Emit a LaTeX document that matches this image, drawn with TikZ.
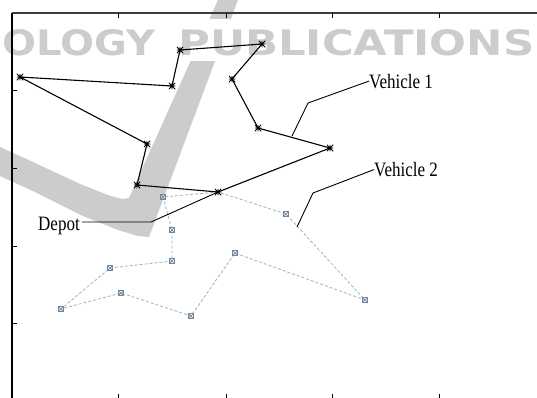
\documentclass[tikz,border=0pt]{standalone}
\usepackage{fontspec}
\setmainfont{Liberation Serif}
\newfontfamily\wmfont{DejaVu Sans}
\usepackage{graphicx}
\pgfdeclarelayer{bg}
\pgfdeclarelayer{routes}
\pgfsetlayers{bg,routes,main}
\definecolor{wmgray}{RGB}{204,204,204}
\definecolor{routetwo}{RGB}{150,182,200}
\definecolor{marktwo}{RGB}{115,135,155}
\definecolor{framegray}{RGB}{60,60,60}
\tikzset{
  mkone/.style={inner sep=0pt, minimum size=6.5pt, path picture={
    \draw[black, line width=0.9pt]
      (path picture bounding box.north west) -- (path picture bounding box.south east)
      (path picture bounding box.north east) -- (path picture bounding box.south west)
      (path picture bounding box.north) -- (path picture bounding box.south)
      (path picture bounding box.west) -- (path picture bounding box.east);}},
  mktwo/.style={inner sep=0pt, minimum size=5pt, draw=marktwo, line width=0.5pt, path picture={
    \draw[marktwo, line width=0.7pt]
      (path picture bounding box.north west) -- (path picture bounding box.south east)
      (path picture bounding box.north east) -- (path picture bounding box.south west);}},
  routeone/.style={black, line width=1.1pt, line join=round},
  routetwostyle/.style={routetwo, line width=0.8pt, dash pattern=on 3pt off 2pt},
  leader/.style={black, line width=0.9pt},
  labeltext/.style={inner sep=0pt, font=\fontsize{17}{20}\selectfont},
  wmtext/.style={inner sep=0pt, text=wmgray, font=\wmfont\bfseries},
  axisline/.style={line width=1.4pt},
  tickline/.style={line width=0.7pt}
}
\begin{document}
\begin{tikzpicture}[x=1pt,y=-1pt]
\useasboundingbox (0,0) rectangle (537,397);
\clip (0,0) rectangle (537,397);
% watermark
\begin{pgfonlayer}{bg}
\fill[white] (0,0) rectangle (537,397);
\fill[wmgray] (218,0) -- (238,0) -- (152,229) -- (149,237) -- (138,236) -- (118,230)
  -- (83,216) -- (33,191) -- (0,176) -- (0,147) -- (33,162) -- (80,184) -- (108,195)
  -- (122,199) -- (129,198) -- cycle;
\fill[white] (140,19) rectangle (262,61);
\node[wmtext, anchor=base east] (wmA) at (156,55) {\resizebox{153pt}{26pt}{OLOGY}};
\node[wmtext, anchor=base west] (wmB) at (178,55) {\resizebox{356pt}{26pt}{PUBLICATIONS}};
\end{pgfonlayer}
% axes frame
\draw[framegray, axisline] (12,13) -- (540,13);
\draw[black, axisline] (12,13) -- (12,400);
\draw[black, axisline] (12,400) -- (540,400);
\foreach \tx in {118,226,332,439} {
  \draw[tickline] (\tx,13) -- (\tx,17.5);
  \draw[tickline] (\tx,400) -- (\tx,394);
}
\foreach \ty in {90,168,246,323} {
  \draw[tickline] (12,\ty) -- (16.5,\ty);
}
% vehicle 1 markers
\node[mkone] (d) at (218,192) {};
\node[mkone] (a1) at (330,148) {};
\node[mkone] (a2) at (258,128) {};
\node[mkone] (a3) at (232,79) {};
\node[mkone] (a4) at (262,44) {};
\node[mkone] (a5) at (180,50) {};
\node[mkone] (a6) at (172,86) {};
\node[mkone] (a7) at (20,77) {};
\node[mkone] (a8) at (147,144) {};
\node[mkone] (a9) at (137,185) {};
% vehicle 2 markers
\node[mktwo] (b1) at (163,197) {};
\node[mktwo] (b2) at (172,230) {};
\node[mktwo] (b3) at (172,261) {};
\node[mktwo] (b4) at (110,268) {};
\node[mktwo] (b5) at (61,309) {};
\node[mktwo] (b6) at (121,293) {};
\node[mktwo] (b7) at (191,316) {};
\node[mktwo] (b8) at (235,253) {};
\node[mktwo] (b9) at (365,300) {};
\node[mktwo] (b10) at (286,214) {};
\begin{pgfonlayer}{routes}
\draw[routetwostyle] (d.center) -- (b1.center) -- (b2.center) -- (b3.center) -- (b4.center)
  -- (b5.center) -- (b6.center) -- (b7.center) -- (b8.center) -- (b9.center)
  -- (b10.center) -- (d.center);
\draw[routeone] (d.center) -- (a1.center) -- (a2.center) -- (a3.center) -- (a4.center)
  -- (a5.center) -- (a6.center) -- (a7.center) -- (a8.center) -- (a9.center) -- (d.center);
\end{pgfonlayer}
% labels
\node[labeltext, anchor=base west] (lab1) at (369,88) {\scalebox{1}[1.2]{Vehicle 1}};
\node[labeltext, anchor=base west] (lab2) at (374,176.5) {\scalebox{1}[1.2]{Vehicle 2}};
\node[labeltext, anchor=base west] (lab3) at (38,230) {\scalebox{1}[1.2]{Depot}};
\coordinate (k1) at (308,103);
\coordinate (e1) at (292,136);
\coordinate (k2) at (313,193);
\coordinate (e2) at (297,227);
\coordinate (s3) at (82,222);
\coordinate (k3) at (151,222);
\draw[leader] (lab1.west) -- (k1) -- (e1);
\draw[leader] (lab2.west) -- (k2) -- (e2);
\draw[leader] (s3) -- (k3) -- (d.center);
\end{tikzpicture}
\end{document}
